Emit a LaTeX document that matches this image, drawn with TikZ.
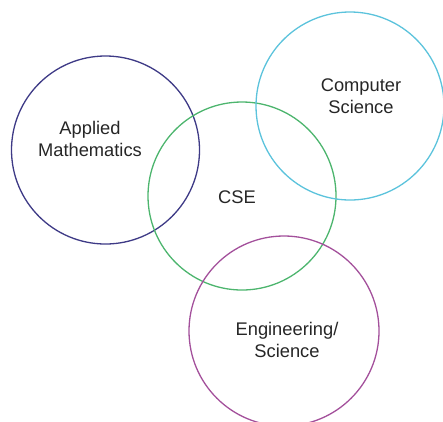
\documentclass[tikz,border=0pt]{standalone}
\usepackage{fontspec}
\setmainfont{Liberation Sans}
\definecolor{amcol}{HTML}{3E3A86}
\definecolor{csecol}{HTML}{4DB56E}
\definecolor{cscol}{HTML}{5CC3DC}
\definecolor{engcol}{HTML}{A3509B}
\begin{document}
\begin{tikzpicture}[x=1pt,y=-1pt,
  ring/.style={draw=#1,line width=1.3pt,circle,minimum size=188pt,inner sep=0pt},
  lbl/.style={font=\fontsize{18.3}{22.5}\selectfont,align=center,text=black!85,inner sep=0pt}]
\useasboundingbox (0,0) rectangle (443,421);
\begin{scope}
\clip (0,0) rectangle (443,421);
\node[ring=amcol] (am) at (105.5,150) {};
\node[ring=csecol] (cse) at (242,196) {};
\node[ring=cscol] (cs) at (350,106) {};
\node[ring=engcol,minimum size=190pt] (eng) at (284,331) {};
\end{scope}
\node[lbl] (amt) at (90,139) {Applied\\Mathematics};
\node[lbl] (cst) at (361,96) {Computer\\Science};
\node[lbl] (cset) at (237,197) {CSE};
\node[lbl] (engt) at (287,340) {Engineering/\\Science};
\end{tikzpicture}
\end{document}
